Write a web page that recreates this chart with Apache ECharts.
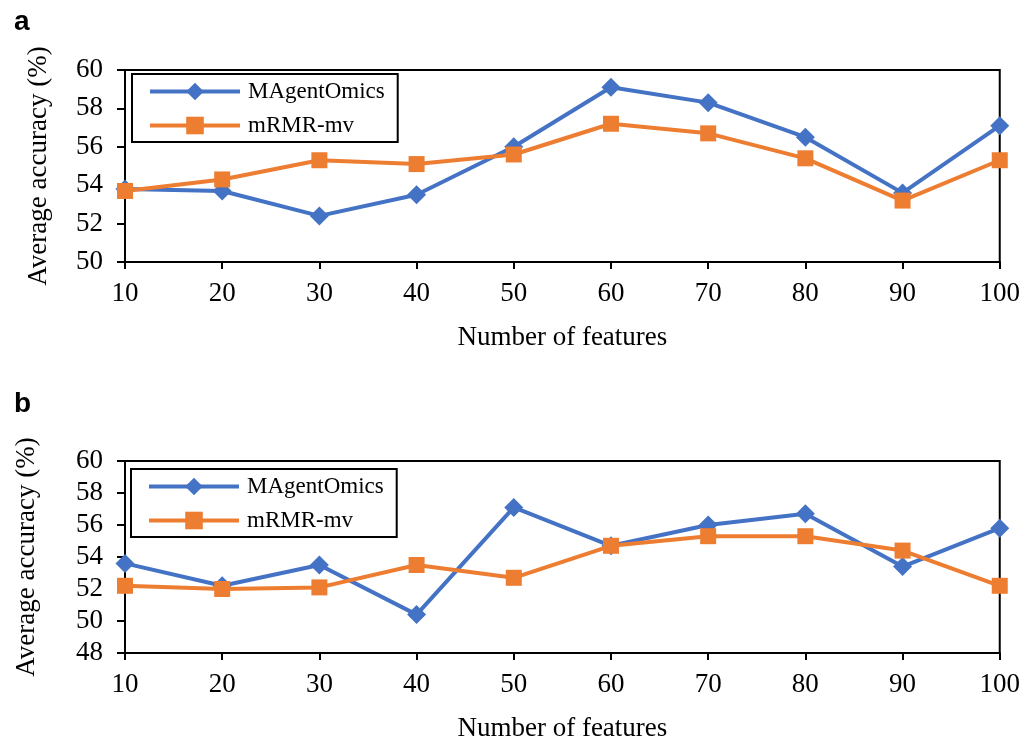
<!DOCTYPE html>
<html>
<head>
<meta charset="utf-8">
<script src="https://cdn.jsdelivr.net/npm/echarts@6/dist/echarts.min.js"></script>
<style>html,body{margin:0;padding:0;background:#fff}#c{width:1023px;height:746px}</style>
</head>
<body>
<div id="c"></div>
<script>
const features = [10, 20, 30, 40, 50, 60, 70, 80, 90, 100];
const seriesNames = ['MAgentOmics', 'mRMR-mv'];
const aMAgentOmics = [53.8, 53.7, 52.4, 53.5, 56.0, 59.1, 58.3, 56.5, 53.6, 57.1];
const aMRMR = [53.7, 54.3, 55.3, 55.1, 55.6, 57.2, 56.7, 55.4, 53.2, 55.3];
const bMAgentOmics = [53.6, 52.2, 53.5, 50.4, 57.1, 54.7, 56.0, 56.7, 53.4, 55.8];
const bMRMR = [52.2, 52.0, 52.1, 53.5, 52.7, 54.7, 55.3, 55.3, 54.4, 52.2];
const aYTicks = {min: 50, max: 60, interval: 2};
const bYTicks = {min: 48, max: 60, interval: 2};

const serif = 'Liberation Serif, Times New Roman, serif';
const blue = '#4472C4', orange = '#ED7D31';
const FS = 27;

function pairs(vals){ return features.map((f,i)=>[f, vals[i]]); }

function xAxis(gi){
  return {
    type: 'value', gridIndex: gi, min: 10, max: 100, interval: 10,
    name: 'Number of features', nameLocation: 'middle', nameGap: 62,
    nameTextStyle: {fontFamily: serif, fontSize: FS, color: '#000'},
    axisLine: {show: true, lineStyle: {color: '#000', width: 2}},
    axisTick: {show: true, inside: false, length: 7, lineStyle: {color: '#000', width: 2}},
    axisLabel: {fontFamily: serif, fontSize: FS, color: '#000', margin: 18},
    splitLine: {show: false}
  };
}
function yAxis(gi, t, gap){
  return {
    type: 'value', gridIndex: gi, min: t.min, max: t.max, interval: t.interval,
    name: 'Average accuracy (%)', nameLocation: 'middle', nameGap: gap, nameRotate: 90,
    nameTextStyle: {fontFamily: serif, fontSize: FS, color: '#000'},
    axisLine: {show: true, lineStyle: {color: '#000', width: 2}},
    axisTick: {show: true, inside: false, length: 8, lineStyle: {color: '#000', width: 2}},
    axisLabel: {fontFamily: serif, fontSize: FS, color: '#000', margin: 22},
    splitLine: {show: false}
  };
}
function line(name, vals, gi, color, symbol, size){
  return {
    name, type: 'line', xAxisIndex: gi, yAxisIndex: gi, data: pairs(vals),
    symbol, symbolSize: size, showSymbol: true,
    lineStyle: {color, width: 4}, itemStyle: {color, borderWidth: 0},
    z: name === seriesNames[0] ? 3 : 4, animation: false
  };
}
function legend(top, left){
  return {
    data: seriesNames, orient: 'vertical', top, left,
    itemWidth: 90, itemHeight: 22, itemGap: 11,
    borderColor: '#000', borderWidth: 2, padding: [6, 13, 5, 16],
    backgroundColor: '#fff',
    lineStyle: {width: 4},
    textStyle: {fontFamily: serif, fontSize: 23, color: '#000', lineHeight: 22, padding: [0, 0, 0, 3]}
  };
}

const chart = echarts.init(document.getElementById('c'), null, {renderer: 'canvas'});
chart.setOption({
  animation: false,
  backgroundColor: '#fff',
  title: [
    {text: 'a', left: 9, top: 3, textStyle: {fontFamily: 'Liberation Sans, Arial, sans-serif', fontSize: 28, fontWeight: 'bold', color: '#000'}},
    {text: 'b', left: 9, top: 385, textStyle: {fontFamily: 'Liberation Sans, Arial, sans-serif', fontSize: 28, fontWeight: 'bold', color: '#000'}}
  ],
  grid: [
    {left: 125, right: 20, top: 70, height: 192, show: true, borderColor: '#000', borderWidth: 2, containLabel: false},
    {left: 125, right: 20, top: 461, height: 192, show: true, borderColor: '#000', borderWidth: 2, containLabel: false}
  ],
  legend: [legend(74, 132), legend(469, 131)],
  xAxis: [xAxis(0), xAxis(1)],
  yAxis: [yAxis(0, aYTicks, 73), yAxis(1, bYTicks, 85)],
  series: [
    line(seriesNames[0], aMAgentOmics, 0, blue, 'diamond', 19),
    line(seriesNames[1], aMRMR, 0, orange, 'rect', 16),
    line(seriesNames[0], bMAgentOmics, 1, blue, 'diamond', 19),
    line(seriesNames[1], bMRMR, 1, orange, 'rect', 16)
  ]
});
</script>
</body>
</html>
